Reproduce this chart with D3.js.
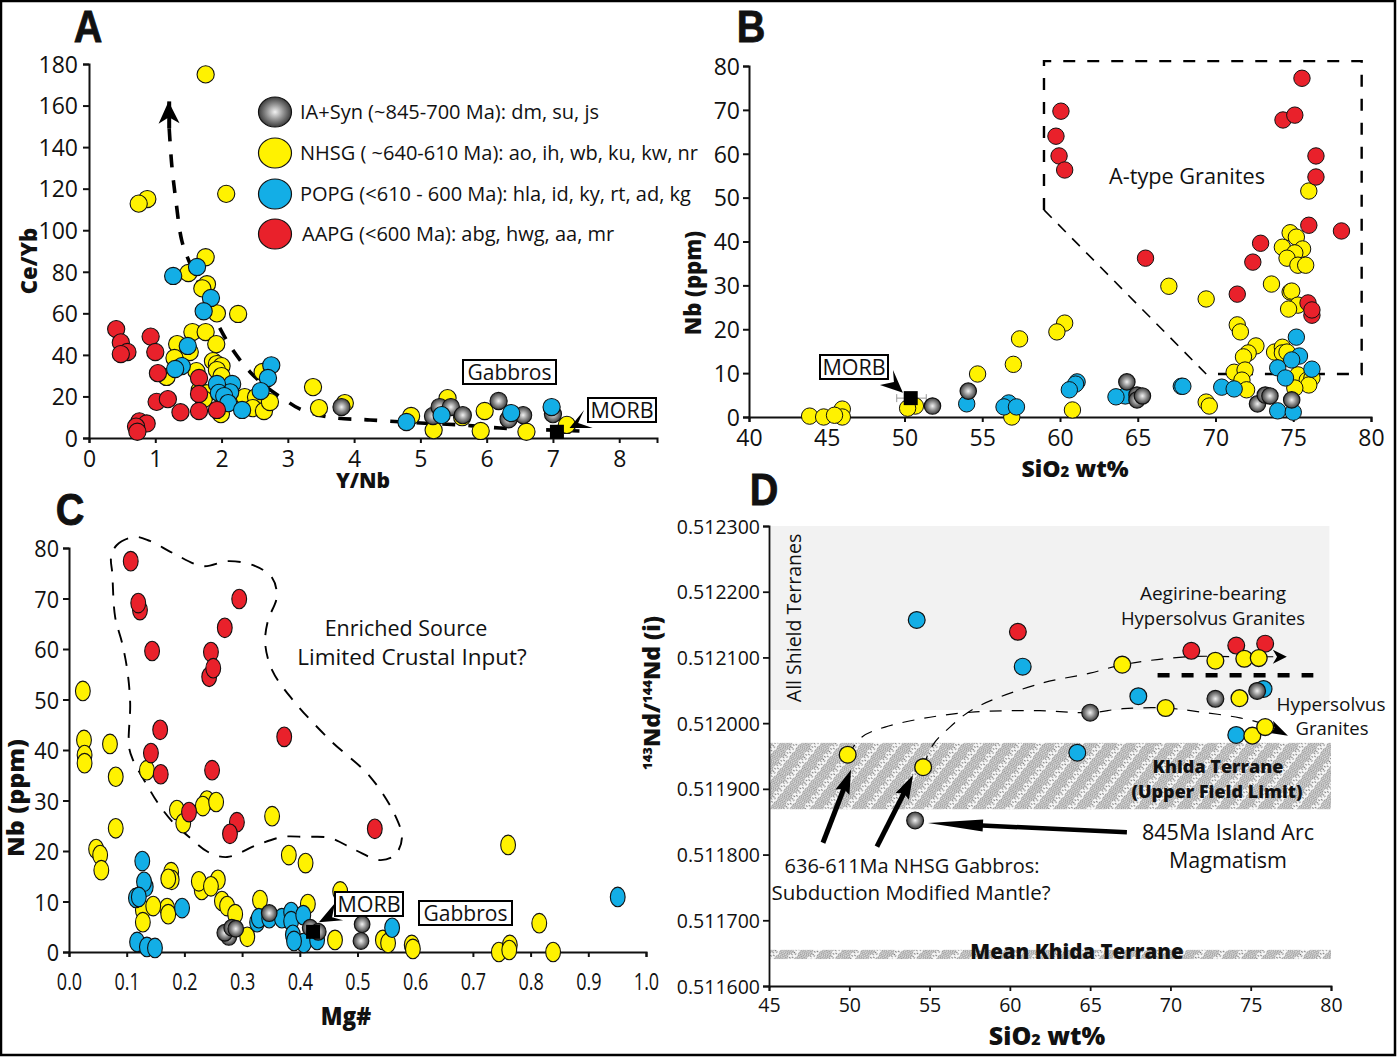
<!DOCTYPE html>
<html>
<head>
<meta charset="utf-8">
<script src="https://cdn.jsdelivr.net/npm/d3@7"></script>
<style>
html, body { margin: 0; padding: 0; background: #fff; }
svg { display: block; }
text { font-family: "Open Sans", sans-serif; fill: #111; }
</style>
</head>
<body>
<div id="chart"></div>
<script>
// [x, y] pairs, one list per suite and panel
const aAapg = [[.41,52.4],[.48,46],[.58,41.4],[.48,40.4],[.93,48.8],[1,41.4],[1.04,31.2],[1.02,17.4],[1.19,18.7],[1.38,12.4],[1.66,28.9],[1.66,21.2],[1.66,13],[1.93,13.5],[.76,8],[.87,7],[.71,5.5],[.73,3]];
const aNhsg = [[1.76,175],[.88,115],[.75,112.8],[2.07,117.5],[1.76,87],[1.5,79.4],[1.78,74],[1.71,72],[1.93,60],[2.25,59.7],[1.56,51],[1.76,51],[1.33,45.2],[1.92,45.2],[1.52,41.4],[1.29,38.5],[1.87,37],[1.93,35.6],[2,34.6],[1.93,32.7],[1.62,32.2],[2,29.8],[1.17,29.4],[2.62,31.8],[1.67,23],[1.78,21.5],[1.73,18.7],[2.35,19.7],[2.52,19.7],[2.47,14.4],[2.64,13],[2.73,17.3],[1.99,11.5],[3.38,24.5],[3.47,14.4],[3.86,16.8],[4.86,10.6],[5.41,19.2],[5.2,3.8],[5.97,13],[5.91,3.4],[6.6,3],[5.63,10],[7.21,6.3]];
const aPopg = [[1.27,78],[1.63,82.3],[1.84,67.4],[1.73,61],[1.49,44.3],[1.4,34.6],[1.3,33.2],[2.75,35],[2.7,28.9],[2.59,22.6],[2.16,26],[2.13,22],[1.93,26],[1.96,21.7],[2.04,20.2],[2.1,16.8],[2.31,13.5],[4.79,7.7],[5.32,11],[6.37,12],[6.98,14.9]];
const aIa = [[3.81,14.9],[5.19,10.6],[5.29,14.9],[5.46,14.9],[5.64,11],[6.18,17.8],[6.55,11],[6.33,9],[7,11.5]];
const aMorb = [[7.06,3]];

const bAapg = [[60.06,69.7],[59.74,64],[59.94,59.5],[60.3,56.3],[75.56,77.2],[74.34,67.7],[75.1,68.8],[76.46,59.5],[76.46,54.7],[76,43.7],[78.1,42.4],[72.9,39.6],[72.4,35.3],[65.5,36.2],[71.4,28],[75.95,26],[76.2,23.2],[76.2,24.4]];
const bNhsg = [[76,51.5],[74.8,42],[75.2,41],[74.3,38.7],[75.6,38.3],[75.1,37.4],[74.6,36.2],[75.3,34.6],[75.8,34.6],[73.6,30.3],[74.8,28.5],[74.9,28.7],[67,29.8],[69.4,26.9],[75.3,25.5],[74.7,24.6],[71.4,21],[71.6,19.4],[72.6,16.2],[72.1,14.6],[71.8,13.7],[73.8,14.8],[74.3,15.9],[74.3,14.6],[74.6,14.8],[71.2,10.2],[71.9,10.7],[71.7,8.4],[72,6.2],[75.3,9.6],[75.9,8.4],[76.2,8.9],[76,7.3],[75.1,6.6],[69.4,3.4],[69.6,2.5],[43.9,.2],[44.8,0],[46,1.8],[46,0],[45.5,.4],[50.7,2.5],[50.2,2],[54.7,9.8],[57.4,17.8],[57,12],[60.3,21.4],[59.8,19.4],[60.8,1.6],[56.9,0]];
const bPopg = [[54,3],[56.7,3.2],[56.4,2.3],[57.2,2.3],[61.1,8],[61,7.5],[60.6,6.2],[64.2,4.8],[63.6,4.6],[67.8,7],[67.9,7],[70.4,6.8],[71.2,6.4],[75.2,18.2],[75.4,13.9],[74.9,13],[74,11.2],[76.2,10.9],[74.5,8.9],[74,1.4],[75,1.1]];
const bIa = [[51.8,2.5],[54.1,5.9],[64.3,8],[64.95,5],[64.95,3.9],[65.3,4.8],[72.7,3],[73.2,5],[73.5,4.8],[74.9,3.9]];
const bMorb = [[50.4,4.3]];

const cAapg = [[.107,77.4],[.123,67.7],[.12,69.1],[.144,59.6],[.295,69.9],[.27,64.2],[.246,59.4],[.243,54.5],[.25,56.2],[.158,44],[.373,42.6],[.142,39.4],[.159,35.2],[.248,36],[.208,27.7],[.291,25.7],[.279,23.4],[.53,24.4]];
const cNhsg = [[.024,51.7],[.026,42],[.027,39],[.027,37.4],[.071,41.2],[.081,34.7],[.135,36],[.081,24.5],[.047,20.4],[.054,19.2],[.056,16.2],[.187,28.1],[.198,25.5],[.239,30],[.232,28.9],[.255,29.7],[.352,26.9],[.381,19.2],[.41,17.6],[.177,15.8],[.178,14.3],[.172,14.5],[.23,12.3],[.258,14.3],[.225,14],[.246,13],[.265,10.1],[.274,9.1],[.288,7.5],[.309,3],[.331,10.3],[.414,9.5],[.47,12],[.461,2.4],[.17,8.7],[.172,7.5],[.128,8.3],[.146,9.1],[.128,5.9],[.761,21.2],[.815,5.7],[.544,2.4],[.553,1.8],[.594,1.4],[.596,.6],[.745,0],[.764,1.4],[.763,.4],[.839,0]];
const cPopg = [[.127,18],[.133,12.9],[.13,13.9],[.116,10.7],[.121,10.9],[.196,8.7],[.118,2],[.135,1],[.149,.8],[.326,5.9],[.329,6.7],[.347,6.7],[.369,6.7],[.385,7.9],[.385,6.1],[.406,7.3],[.388,3.4],[.407,1.8],[.39,2.2],[.43,2.4],[.56,4.8],[.951,10.9]];
const cIa = [[.277,3],[.27,3.8],[.282,4.8],[.289,4.6],[.347,7.7],[.418,4.8],[.432,4],[.508,5.5],[.506,2.2]];
const cMorb = [[.423,4]];

const dAapg = [[60.5,.512139],[71.3,.51211],[74.1,.512118],[75.9,.512121]];
const dNhsg = [[67,.512089],[72.8,.512095],[74.6,.512098],[75.5,.512099],[69.7,.512023],[74.3,.512038],[75.1,.511981],[75.9,.511994],[49.9,.511952],[54.6,.511933]];
const dPopg = [[54.2,.512157],[60.8,.512086],[68,.512041],[75.8,.512052],[74.1,.511982],[64.2,.511955]];
const dIa = [[65,.512016],[72.8,.512037],[75.4,.512049],[54.1,.511852]];

// fields and trend lines, same units as the panels
const aTrend = [[1.21,149],[1.25,131],[1.31,114.5],[1.4,95],[1.51,85],[1.67,73.6],[1.95,54.4],[2.17,42.3],[2.43,31.8],[2.7,24],[2.96,18.3],[3.18,14],[3.63,10],[4.24,8.7],[5,7.2],[5.6,6.3],[6.2,4.8],[7.4,3.4]];
const bFieldHeavy = [[58.97,47.2],[58.97,81.1],[79.4,81.1],[79.4,9.8],[70.16,9.8]];
const bFieldLight = [[58.97,47.2],[69.4,9.8]];
const cField = [[.073,78.2],[.083,80.6],[.114,82.2],[.14,81.4],[.18,79],[.232,76.4],[.276,77.4],[.319,76.6],[.352,74.1],[.36,70.3],[.345,65.7],[.34,61.2],[.352,55.8],[.388,49.9],[.452,42],[.522,34.7],[.565,27.1],[.577,22.6],[.565,19.2],[.539,18.2],[.496,20.2],[.452,22.6],[.409,22.8],[.371,22.8],[.326,21.2],[.274,18.8],[.241,19.8],[.21,22.6],[.18,25.7],[.154,29.5],[.135,33.1],[.111,38],[.104,40.6],[.106,49.3],[.101,55.8],[.092,61.2],[.08,66.3],[.075,75]];
const dLower = [[49.92,.511952],[50.79,.511979],[52.22,.511994],[55.03,.512009],[57.83,.512017],[61.87,.512019],[64.99,.512016],[67.04,.512022],[69.72,.512023],[71.84,.512017],[74.33,.512008],[76.01,.511997],[77.13,.511982]];
const dUpper = [[54.59,.511933],[55.21,.511967],[56.27,.511994],[57.83,.512023],[61.87,.51206],[64.99,.512076],[67.04,.512089],[71.03,.512101],[74.33,.512101],[76.51,.512101]];
const dAegirine = [[69.2,.512073],[78.9,.512073]];
const dShieldBand = [.51202, .5123];
const dKhidaBand = [.511869, .51197];
const dMeanBand = [.511641, .511655];

const legendLabels = ["IA+Syn (~845-700 Ma): dm, su, js", "NHSG ( ~640-610 Ma): ao, ih, wb, ku, kw, nr", "POPG (<610 - 600 Ma): hla, id, ky, rt, ad, kg", "AAPG (<600 Ma): abg, hwg, aa, mr"];

const RED = "#e9212b", YEL = "#fff200", BLU = "#13aee6";

const svg = d3.select("#chart").append("svg").attr("width", 1397).attr("height", 1057);
const defs = svg.append("defs");

const grad = defs.append("radialGradient").attr("id", "steel");
grad.append("stop").attr("offset", "0%").attr("stop-color", "#f2f2f2");
grad.append("stop").attr("offset", "55%").attr("stop-color", "#8c8c8c");
grad.append("stop").attr("offset", "100%").attr("stop-color", "#3c3c3c");

// the squiggly litho hatch of the Khida bands
const hatch = defs.append("pattern").attr("id", "hatch").attr("patternUnits", "userSpaceOnUse")
    .attr("width", 10).attr("height", 16).attr("patternTransform", "rotate(-52)");
hatch.append("rect").attr("width", 10).attr("height", 16).attr("fill", "#f7f7f7");
[.8, 2.6, 4.4, 6.2, 8, 9.8].forEach(y => {
    hatch.append("path").attr("d", `M0 ${y} Q2.5 ${y-2} 5 ${y} T10 ${y}`)
        .attr("fill", "none").attr("stroke", "#6e6e6e").attr("stroke-width", .8);
});
[[1.5,12],[5.5,11.8],[3.5,14],[8,14.2],[8.5,12.2]].forEach(d => {
    hatch.append("circle").attr("cx", d[0]).attr("cy", d[1]).attr("r", .65).attr("fill", "#444");
});

function label(x, y, txt, o) {
    o = o || {};
    const t = svg.append("text")
        .attr("text-anchor", o.anchor || "middle")
        .attr("font-size", o.size || 18)
        .attr("font-weight", o.weight || 400)
        .attr("transform", `translate(${x},${y})` + (o.rot ? ` rotate(${o.rot})` : "") + (o.sx ? ` scale(${o.sx},1)` : ""));
    if (typeof txt === "string") t.text(txt);
    else txt.forEach(p => t.append("tspan").attr("font-size", p[1] || null).attr("dy", p[2] || 0).text(p[0]));
    return t;
}

function letter(x, y, txt) {
    label(x, y, txt, {size: 44, weight: 700, sx: .9}).style("font-family", '"Liberation Sans"')
        .attr("stroke", "#111").attr("stroke-width", .8);
}

function boxLabel(x, y, w, h, txt, size) {
    svg.append("rect").attr("x", x).attr("y", y).attr("width", w).attr("height", h)
        .attr("fill", "#fff").attr("stroke", "#000").attr("stroke-width", 2);
    label(x + w / 2, y + h / 2 + size * .36, txt, {size: size});
}

function panel(xDom, xRange, yDom, yRange, xTicks, yTicks, o) {
    const x = d3.scaleLinear().domain(xDom).range(xRange);
    const y = d3.scaleLinear().domain(yDom).range(yRange);
    const g = svg.append("g");
    const gx = g.append("g").attr("transform", `translate(0,${yRange[0]})`)
        .call(d3.axisBottom(x).tickValues(xTicks).tickSizeOuter(0).tickSize(5).tickFormat(o.xFmt || d3.format("d")));
    const gy = g.append("g").attr("transform", `translate(${xRange[0]},0)`)
        .call(d3.axisLeft(y).tickValues(yTicks).tickSizeOuter(0).tickSize(6).tickFormat(o.yFmt || d3.format("d")));
    [gx, gy].forEach(a => {
        a.selectAll("path,line").attr("stroke", "#111").attr("stroke-width", o.axisW || 2);
        a.selectAll("text").attr("font-family", null).attr("font-size", o.tick || 23).attr("fill", "#111");
    });
    gx.selectAll("text").attr("y", 0).attr("dy", 0)
        .attr("transform", `translate(0,${o.xDy || 29}) scale(${o.sx || 1},1)`);
    gy.selectAll("text").attr("x", 0).attr("dy", 0)
        .attr("transform", `translate(${o.yPad || -9},${(o.tick || 23) * .36}) scale(${o.syTick || 1},1)`);
    return {x, y, g};
}

function marks(p, pts, fill, rx, ry, sw) {
    p.g.append("g").selectAll("ellipse").data(pts).join("ellipse")
        .attr("cx", d => p.x(d[0])).attr("cy", d => p.y(d[1]))
        .attr("rx", rx).attr("ry", ry)
        .attr("fill", fill).attr("stroke", "#111").attr("stroke-width", sw || 1.1);
}

function morb(p, pts, s) {
    p.g.append("g").selectAll("rect").data(pts).join("rect")
        .attr("x", d => p.x(d[0]) - s / 2).attr("y", d => p.y(d[1]) - s / 2)
        .attr("width", s).attr("height", s).attr("fill", "#000");
}

function dashed(p, pts, w, dash, curve) {
    const line = d3.line().x(d => p.x(d[0])).y(d => p.y(d[1])).curve(curve || d3.curveLinear);
    p.g.append("path").attr("d", line(pts)).attr("fill", "none")
        .attr("stroke", "#000").attr("stroke-width", w).attr("stroke-dasharray", dash);
}

function poly(p, pts) {
    p.g.append("polygon").attr("points", pts.map(d => [p.x(d[0]), p.y(d[1])].join(",")).join(" ")).attr("fill", "#000");
}

// barbed head whose tip sits on the given point, pointing away from "from"
function head(p, from, tip, len, wid, notch) {
    const x0 = p.x(from[0]), y0 = p.y(from[1]), x1 = p.x(tip[0]), y1 = p.y(tip[1]);
    const a = Math.atan2(y1 - y0, x1 - x0), c = Math.cos(a), s = Math.sin(a);
    const bx = x1 - c * len, by = y1 - s * len, nx = x1 - c * len * notch, ny = y1 - s * len * notch;
    p.g.append("polygon").attr("fill", "#000").attr("points", [
        [x1, y1], [bx - s * wid / 2, by + c * wid / 2], [nx, ny], [bx + s * wid / 2, by - c * wid / 2]
    ].map(d => d.join(",")).join(" "));
}

function arrow(p, from, tip, w, len, wid, notch) {
    const x0 = p.x(from[0]), y0 = p.y(from[1]), x1 = p.x(tip[0]), y1 = p.y(tip[1]);
    const r = 1 - len * .7 / Math.hypot(x1 - x0, y1 - y0);
    p.g.append("line").attr("x1", x0).attr("y1", y0).attr("x2", x0 + (x1 - x0) * r).attr("y2", y0 + (y1 - y0) * r)
        .attr("stroke", "#000").attr("stroke-width", w);
    head(p, from, tip, len, wid, notch);
}

// ----- A
const pa = panel([0, 8.57], [89, 657], [0, 180], [438, 64], d3.range(0, 9), d3.range(0, 181, 20), {yPad: -11});
dashed(pa, aTrend, 3.6, "13 13", d3.curveCatmullRom);
dashed(pa, [[1.21,162],[1.21,149]], 4, null);
head(pa, [1.21,149], [1.2,162], 22, 21, .72);
marks(pa, aNhsg, YEL, 8.6, 8.6);
marks(pa, aIa, "url(#steel)", 8.6, 8.6);
marks(pa, aPopg, BLU, 8.6, 8.6);
marks(pa, aAapg, RED, 8.6, 8.6);
morb(pa, aMorb, 14);
poly(pa, [[7.25,4.8],[7.47,13.5],[7.38,7.2],[7.6,4.8]]);
boxLabel(463, 360, 93, 24, "Gabbros", 21);
boxLabel(588, 398, 68, 24, "MORB", 21.5);
letter(88, 42, "A");
label(37, 261, "Ce/Yb", {size: 22, weight: 800, rot: -90});
label(363, 488, "Y/Nb", {size: 21, weight: 800});
[112, 153, 194, 234].forEach((cy, i) => {
    svg.append("ellipse").attr("cx", 275).attr("cy", cy).attr("rx", 16.5).attr("ry", 15)
        .attr("fill", ["url(#steel)", YEL, BLU, RED][i]).attr("stroke", "#111").attr("stroke-width", 1.2);
    label(i == 3 ? 302 : 300, cy + 7, legendLabels[i], {size: 20, anchor: "start"});
});

// ----- B
const pb = panel([40, 80], [749, 1371], [0, 80], [417, 66], d3.range(40, 81, 5), d3.range(0, 81, 10), {});
dashed(pb, bFieldHeavy, 2.4, "12 12");
dashed(pb, bFieldLight, 1.6, "11 9");
pb.g.append("line").attr("x1", pb.x(49.5)).attr("x2", pb.x(51.4)).attr("y1", pb.y(4.3)).attr("y2", pb.y(4.3)).attr("stroke", "#999");
[49.5, 51.4].forEach(v => pb.g.append("line").attr("x1", pb.x(v)).attr("x2", pb.x(v)).attr("y1", pb.y(4.3) - 4).attr("y2", pb.y(4.3) + 4).attr("stroke", "#999"));
marks(pb, bNhsg, YEL, 8.2, 8.2, 1);
marks(pb, bPopg, BLU, 8.2, 8.2, 1);
marks(pb, bIa, "url(#steel)", 8.2, 8.2, 1.2);
marks(pb, bAapg, RED, 8.2, 8.2, 1);
morb(pb, bMorb, 14);
poly(pb, [[49.9,5.5],[49.26,10.7],[49.32,8],[48.42,7.3]]);
boxLabel(820, 355, 68, 24, "MORB", 21.5);
label(1187, 184, "A-type Granites", {size: 21.7});
letter(751, 42, "B");
label(701, 283, "Nb (ppm)", {size: 22, weight: 800, rot: -90});
label(1075, 477, [["SiO"], ["2", 15], [" wt%", 23]], {size: 23, weight: 800});

// ----- C
const pc = panel([0, 1], [69, 646], [0, 80], [952, 548], d3.range(0, 11).map(d => d / 10), d3.range(0, 81, 10),
    {sx: .75, syTick: .9, yPad: -10, xFmt: d3.format(".1f"), tick: 24, xDy: 38});
dashed(pc, cField, 1.9, "13 11", d3.curveCatmullRomClosed);
marks(pc, cNhsg, YEL, 7.4, 9.8);
marks(pc, cPopg, BLU, 7.4, 9.8);
marks(pc, cIa, "url(#steel)", 7.8, 8.4, 1.2);
marks(pc, cAapg, RED, 7.4, 9.8);
morb(pc, cMorb, 14);
poly(pc, [[.433,5.9],[.461,9.7],[.456,6.9],[.475,6.3]]);
boxLabel(335, 892, 68, 24, "MORB", 21.5);
boxLabel(419, 901, 93, 24, "Gabbros", 21);
label(406, 636, "Enriched Source", {size: 21.5});
label(412, 665, "Limited Crustal Input?", {size: 22.5});
letter(70, 525, "C");
label(24, 798, "Nb (ppm)", {size: 22, weight: 800, rot: -90, sx: 1.13});
label(346, 1025, "Mg#", {size: 25, weight: 800, sx: .9});

// ----- D
const pd = panel([45, 80], [769, 1331], [.5116, .5123], [986, 526], d3.range(45, 81, 5),
    d3.range(0, 8).map(d => +(.5116 + d * .0001).toFixed(4)),
    {yFmt: d3.format(".6f"), tick: 19.5, xDy: 26, axisW: 1.8});
function band(p, dom, fill, x1) {
    p.g.insert("rect", ":first-child").attr("x", p.x(45)).attr("y", p.y(dom[1]))
        .attr("width", p.x(x1) - p.x(45)).attr("height", p.y(dom[0]) - p.y(dom[1])).attr("fill", fill);
}
band(pd, dMeanBand, "url(#hatch)", 80);
band(pd, dKhidaBand, "url(#hatch)", 80);
band(pd, dShieldBand, "#f2f2f2", 79.9);
dashed(pd, dLower, 1.2, "12 10", d3.curveCatmullRom);
dashed(pd, dUpper, 1.2, "12 10", d3.curveCatmullRom);
head(pd, [76.01,.511997], [77.32,.511981], 20, 13, .75);
head(pd, [74.33,.512101], [77.25,.512101], 14, 14, .7);
dashed(pd, dAegirine, 4.5, "12 12");
marks(pd, dAapg, RED, 8.4, 8.4, 1.2);
marks(pd, dPopg, BLU, 8.4, 8.4, 1.2);
marks(pd, dIa, "url(#steel)", 8.4, 8.4, 1.2);
marks(pd, dNhsg, YEL, 8.4, 8.4, 1.3);
arrow(pd, [48.36,.511818], [50.11,.511929], 5, 24, 15, .85);
arrow(pd, [51.72,.511812], [53.97,.511921], 5, 24, 15, .85);
arrow(pd, [67.29,.511834], [54.9,.511848], 4.5, 55, 12, 1);
letter(764, 505, "D");
label(660, 693, [["143", 13, -8], ["Nd/", 23, 8], ["144", 13, -8], ["Nd (i)", 23, 8]], {size: 23, weight: 800, rot: -90});
label(1047, 1045, [["SiO"], ["2", 16], [" wt%", 25]], {size: 25, weight: 800});
label(801, 618, "All Shield Terranes", {size: 19.5, rot: -90});
label(1213, 600, "Aegirine-bearing", {size: 19});
label(1213, 625, "Hypersolvus Granites", {size: 18.5});
label(1331, 711, "Hypersolvus", {size: 19});
label(1332, 735, "Granites", {size: 18.5});
label(1218, 773, "Khida Terrane", {size: 18, weight: 800});
label(1217, 798, "(Upper Field Limit)", {size: 18, weight: 800});
label(1077, 959, "Mean Khida Terrane", {size: 20.5, weight: 800});
label(1228, 840, "845Ma Island Arc", {size: 21.5});
label(1228, 868, "Magmatism", {size: 21.5});
label(912, 873, "636-611Ma NHSG Gabbros:", {size: 20});
label(911, 900, "Subduction Modified Mantle?", {size: 20.5});

// frame round the whole figure
svg.append("rect").attr("x", 1).attr("y", 1).attr("width", 1394).attr("height", 1054)
    .attr("fill", "none").attr("stroke", "#000").attr("stroke-width", 2.5);
</script>
</body>
</html>
